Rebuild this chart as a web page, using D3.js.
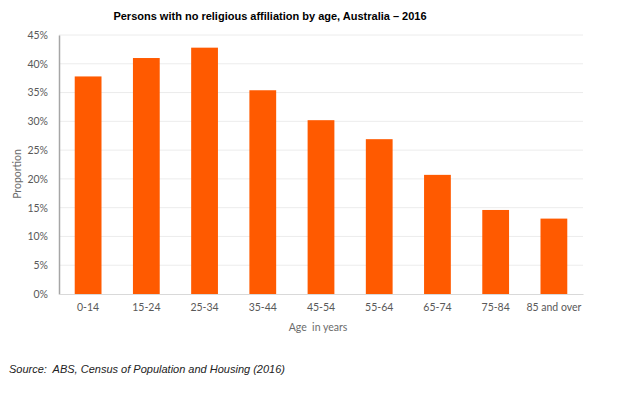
<!DOCTYPE html>
<html>
<head>
<meta charset="utf-8">
<script src="https://cdn.jsdelivr.net/npm/d3@7"></script>
<style>
  body { margin: 0; background: #fff; }
  svg text { fill: #595959; }
</style>
</head>
<body>
<div id="chart"></div>
<script>
// data
const ageGroups = ["0-14", "15-24", "25-34", "35-44", "45-54", "55-64", "65-74", "75-84", "85 and over"];
const noReligion = [37.8, 41.0, 42.8, 35.4, 30.2, 26.9, 20.7, 14.6, 13.1];
const yTicks = [0, 5, 10, 15, 20, 25, 30, 35, 40, 45];

const W = 625, H = 400;
const margin = { top: 35, right: 42, bottom: 106, left: 59 };
const width = W - margin.left - margin.right,
      height = H - margin.top - margin.bottom;

const data = ageGroups.map((a, i) => ({ age: a, value: noReligion[i] }));

const svg = d3.select("#chart").append("svg")
    .attr("width", W).attr("height", H);

const g = svg.append("g")
    .attr("transform", `translate(${margin.left},${margin.top})`);

const xScale = d3.scaleBand()
    .domain(ageGroups)
    .range([0, width])
    .paddingInner(0.54)
    .paddingOuter(0.27);

const yScale = d3.scaleLinear()
    .domain([0, 45])
    .range([height, 0]);

// gridlines
g.append("g")
    .selectAll("line")
    .data(yTicks.slice(1))
    .join("line")
    .attr("x1", 0).attr("x2", width)
    .attr("y1", d => yScale(d)).attr("y2", d => yScale(d))
    .attr("stroke", "#ececec").attr("stroke-width", 1);

// bars
g.selectAll("rect.bar")
    .data(data)
    .join("rect")
    .attr("class", "bar")
    .attr("x", d => xScale(d.age))
    .attr("y", d => yScale(d.value))
    .attr("width", xScale.bandwidth())
    .attr("height", d => height - yScale(d.value))
    .attr("fill", "#ff5a00");

// y axis
const yAxis = g.append("g")
    .call(d3.axisLeft(yScale).tickValues(yTicks).tickSize(0).tickPadding(11).tickFormat(d => d + "%"));
yAxis.select(".domain").attr("stroke", "#a6a6a6").attr("stroke-width", 1.5);
yAxis.selectAll("text").style("font-family", "Lato, 'Open Sans', sans-serif").style("font-size", "10.5px").attr("fill", "#6b6b6b");

// x axis
const xAxis = g.append("g")
    .attr("transform", `translate(0,${height})`)
    .call(d3.axisBottom(xScale).tickSize(0).tickPadding(10));
xAxis.select(".domain").attr("stroke", "#d9d9d9");
xAxis.selectAll("text").style("font-family", "Lato, 'Open Sans', sans-serif").style("font-size", "10.5px").attr("fill", "#6b6b6b");

// axis titles
svg.append("text")
    .attr("x", 318).attr("y", 331)
    .attr("text-anchor", "middle")
    .style("font-family", "Lato, 'Open Sans', sans-serif").style("font-size", "10.5px")
    .style("fill", "#6b6b6b")
    .attr("xml:space", "preserve")
    .text("Age  in years");

svg.append("text")
    .attr("transform", "translate(21,174) rotate(-90)")
    .attr("text-anchor", "middle")
    .style("font-family", "Lato, 'Open Sans', sans-serif").style("font-size", "10.5px")
    .style("fill", "#6b6b6b")
    .text("Proportion");

// title
svg.append("text")
    .attr("x", 270).attr("y", 20)
    .attr("text-anchor", "middle")
    .style("font-family", "'Liberation Sans', Arial, sans-serif").style("font-size", "11px").style("font-weight", "bold")
    .style("fill", "#000")
    .text("Persons with no religious affiliation by age, Australia \u2013 2016");

// source
svg.append("text")
    .attr("x", 9).attr("y", 373)
    .style("font-family", "'Liberation Sans', Arial, sans-serif").style("font-size", "11px").style("font-style", "italic")
    .style("fill", "#222")
    .attr("xml:space", "preserve")
    .text("Source:  ABS, Census of Population and Housing (2016)");
</script>
</body>
</html>
